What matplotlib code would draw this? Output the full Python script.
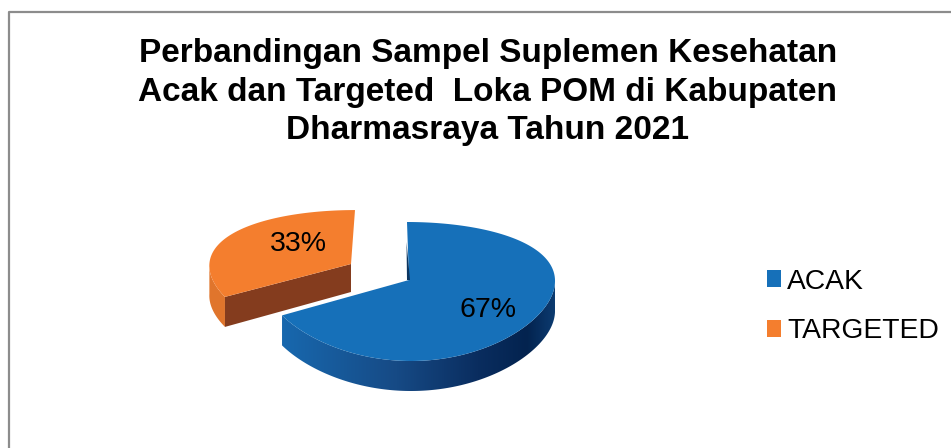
import numpy as np
import matplotlib.pyplot as plt
from matplotlib.colors import LinearSegmentedColormap
from matplotlib.patches import Patch, Polygon

plt.rcParams['font.family'] = ['Liberation Sans', 'DejaVu Sans']

title = 'Perbandingan Sampel Suplemen Kesehatan\nAcak dan Targeted  Loka POM di Kabupaten\nDharmasraya Tahun 2021'
categories = ['ACAK', 'TARGETED']
values = [67, 33]
colors = ['#1670b9', '#f47e2e']

# pie geometry in pixels of the 951x448 picture
cx, cy = 409, 280
rx, ry_top, ry_bot = 146, 58, 81
depth = 30
persp = (ry_bot - ry_top) / (ry_bot + ry_top)


def project(theta, ox=0, oy=0, sx=1.0, sy=1.0, skew=-2):
    # tilted disc: the near side looks bigger than the far side
    u = np.cos(theta)
    v = np.sin(theta)
    w = 1 + persp * v
    k = ry_top * (1 + persp)
    return cx + ox + sx * rx * u + skew * v, cy + oy - sy * k * v / w


fig = plt.figure(figsize=(9.51, 4.48), dpi=100)
ax = fig.add_axes([0, 0, 1, 1])
ax.set_xlim(0, 951)
ax.set_ylim(448, 0)
ax.axis('off')

# chart frame
ax.plot([951, 9, 9], [12, 12, 448], color='#8c8c8c', lw=1.6)

# angles of the slices, clockwise from 12 o'clock
fracs = np.array(values) / sum(values)
start = np.pi / 2
end_blue = start - 2 * np.pi * fracs[0]
end_orange = end_blue - 2 * np.pi * fracs[1]

# blue slice
t_blue = np.linspace(start, end_blue, 200)
bx, by = project(t_blue)
# side of blue, gradient clipped to the visible rim
t_side = np.linspace(end_blue, 0, 150)
sx, sy = project(t_side)
side = Polygon(np.r_[np.c_[sx, sy], np.c_[sx, sy + depth][::-1]], closed=True, fc='none', ec='none')
ax.add_patch(side)
cmap = LinearSegmentedColormap.from_list('rim', [(0, '#1868ae'), (0.42, '#164a85'), (0.72, '#0a2d5f'),
                                                 (0.9, '#03234f'), (1, '#0c3b70')])
img = ax.imshow(np.linspace(0, 1, 256)[None, :], cmap=cmap, aspect='auto',
                extent=[sx.min(), sx.max(), by.max() + depth + 5, by.min()], zorder=2)
img.set_clip_path(side)
ax.set_xlim(0, 951)
ax.set_ylim(448, 0)
ax.add_patch(Polygon(np.r_[np.c_[bx, by], [[cx, cy]]], closed=True, fc=colors[0], ec='none', zorder=3))
# inner cut edge of blue
ax.add_patch(Polygon([[cx + 1, cy], [cx - 2, cy], [cx - 2.5, cy - 38]], closed=True,
                     fc='#0b3560', ec='none', zorder=3))

# orange slice, pulled out of the pie
ox, oy, osx, osy = -58, -16, 0.97, 0.93
t_orange = np.linspace(end_blue, end_orange, 120)
ox_, oy_ = project(t_orange, ox=ox, oy=oy, sx=osx, sy=osy, skew=4)
ax0, ay0 = cx + ox, cy + oy
# outer rim on the left
t_rim = np.linspace(end_blue, -np.pi, 40)
rx_, ry_ = project(t_rim, ox=ox, oy=oy, sx=osx, sy=osy, skew=4)
ax.add_patch(Polygon(np.r_[np.c_[rx_, ry_], np.c_[rx_, ry_ + depth][::-1]], closed=True,
                     fc='#e0752c', ec='none', zorder=2))
# cut face
ax.add_patch(Polygon([[ax0, ay0], [rx_[0], ry_[0]], [rx_[0], ry_[0] + depth], [ax0, ay0 + depth - 2]],
                     closed=True, fc='#843c1e', ec='none', zorder=2))
ax.add_patch(Polygon(np.r_[np.c_[ox_, oy_], [[ax0, ay0]]], closed=True, fc=colors[1], ec='none', zorder=3))

ax.text(488, 310, '%d%%' % values[0], fontsize=20.5, color='black', ha='center', va='center', zorder=4)
ax.text(298, 244, '%d%%' % values[1], fontsize=20.5, color='black', ha='center', va='center', zorder=4)

ax.text(488, 92, title, fontsize=24, fontweight='bold', color='black', ha='center', va='center',
        linespacing=1.33, zorder=4)

handles = [Patch(fc=c, ec='none') for c in colors]
ax.legend(handles, categories, loc='center left', bbox_to_anchor=(767 / 951, 1 - 306.5 / 448), frameon=False,
          fontsize=20.3, handlelength=0.5, handleheight=0.5, handletextpad=0.22, labelspacing=0.85,
          borderpad=0, borderaxespad=0)

fig.savefig('out.png', dpi=100)
